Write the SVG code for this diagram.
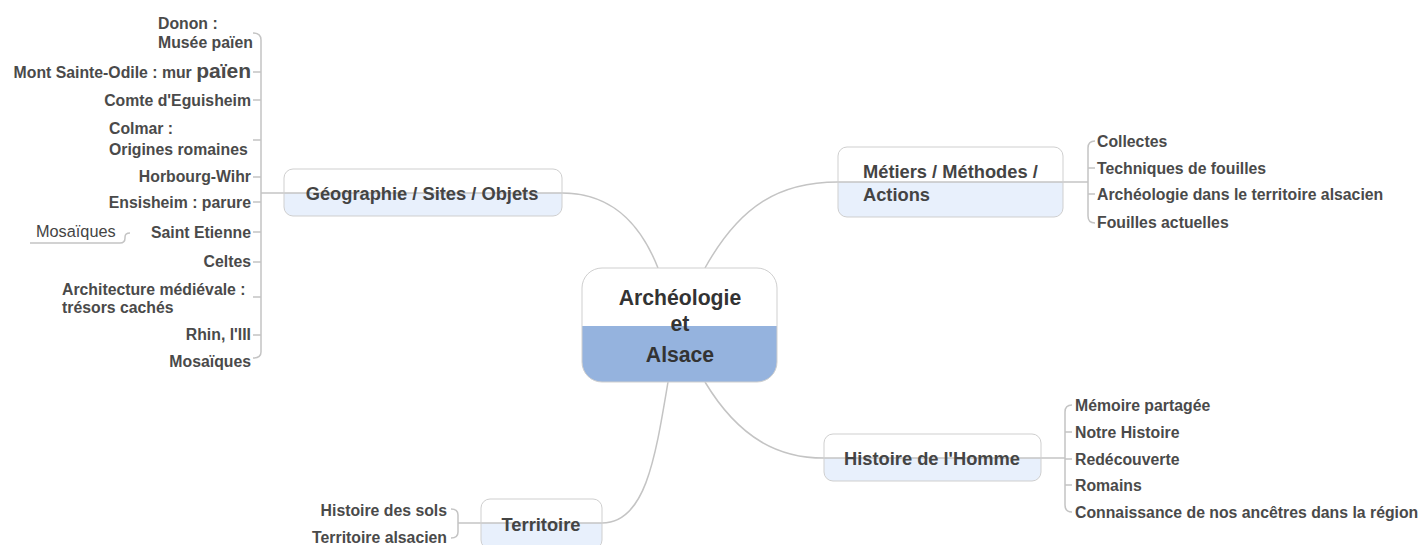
<svg xmlns="http://www.w3.org/2000/svg" width="1423" height="545" viewBox="0 0 1423 545">
<style>
.lf{font-family:"Liberation Sans",Arial,sans-serif;font-weight:bold;font-size:15.8px;fill:#4a4a4a}
.mn{font-family:"Liberation Sans",Arial,sans-serif;font-weight:bold;font-size:18.3px;fill:#444}
.ct{font-family:"Liberation Sans",Arial,sans-serif;font-weight:bold;font-size:21.2px;fill:#333}
.nr{font-family:"Liberation Sans",Arial,sans-serif;font-size:16.3px;fill:#444}
.ln{fill:none;stroke:#c4c4c4;stroke-width:1.5}
.bx{stroke:#cfcfcf;stroke-width:1}
</style>
<defs>
<clipPath id="cG"><rect x="284" y="169" width="278" height="47" rx="9"/></clipPath>
<clipPath id="cM"><rect x="838" y="147" width="225" height="70" rx="9"/></clipPath>
<clipPath id="cH"><rect x="824" y="434" width="217" height="47" rx="9"/></clipPath>
<clipPath id="cT"><rect x="481" y="499" width="121" height="50" rx="9"/></clipPath>
<clipPath id="cC"><rect x="582" y="268" width="195" height="114" rx="20"/></clipPath>
</defs>
<g id="connectors">
<path class="ln" d="M562,193 C620,193 645,235 658,268"/>
<path class="ln" d="M705,268 C740,205 780,182 838,182"/>
<path class="ln" d="M705,382 C740,440 780,458 824,458"/>
<path class="ln" d="M668,382 C655,460 645,523 602,523"/>
<path class="ln" d="M261,193 H284"/>
<path class="ln" d="M253,33 Q261,33 261,40 V352 Q261,358 253,358"/>
<path class="ln" d="M253,72 H261 M253,100 H261 M253,140 H261 M253,177 H261 M253,202 H261 M253,232 H261 M253,262 H261 M253,297 H261 M253,335 H261"/>
<path class="ln" d="M30,243 H120 Q125,243 125,238 V237 Q125,233 130,233"/>
<path class="ln" d="M1063,182 H1088"/>
<path class="ln" d="M1095,141 Q1088,141 1088,148 V216 Q1088,223 1095,223"/>
<path class="ln" d="M1088,168 H1095 M1088,194 H1095"/>
<path class="ln" d="M1041,458 H1065"/>
<path class="ln" d="M1072,405 Q1065,405 1065,412 V505 Q1065,512 1072,512"/>
<path class="ln" d="M1065,432 H1072 M1065,459 H1072 M1065,485 H1072"/>
<path class="ln" d="M481,523 H458"/>
<path class="ln" d="M451,509 Q458,509 458,515 V532 Q458,538 451,538"/>
</g>
<g id="n-center">
<rect x="582" y="268" width="195" height="114" rx="20" fill="#fff"/>
<rect x="582" y="326" width="195" height="60" fill="#95b3de" clip-path="url(#cC)"/>
<rect class="bx" x="582" y="268" width="195" height="114" rx="20" fill="none"/>
<text class="ct" x="680" y="305" text-anchor="middle">Archéologie</text>
<text class="ct" x="680" y="331" text-anchor="middle">et</text>
<text class="ct" x="680" y="362" text-anchor="middle">Alsace</text>
</g>
<g id="n-geo">
<rect x="284" y="169" width="278" height="47" rx="9" fill="#fff"/>
<rect x="284" y="193" width="278" height="25" fill="#e8f0fc" clip-path="url(#cG)"/>
<path class="ln" d="M284,193 H562" stroke-width="1"/>
<rect class="bx" x="284" y="169" width="278" height="47" rx="9" fill="none"/>
<text class="mn" x="422" y="200" text-anchor="middle">Géographie / Sites / Objets</text>
</g>
<g id="n-metiers">
<rect x="838" y="147" width="225" height="70" rx="9" fill="#fff"/>
<rect x="838" y="182" width="225" height="36" fill="#e8f0fc" clip-path="url(#cM)"/>
<path class="ln" d="M838,182 H1063" stroke-width="1"/>
<rect class="bx" x="838" y="147" width="225" height="70" rx="9" fill="none"/>
<text class="mn" x="863" y="178">Métiers / Méthodes /</text>
<text class="mn" x="863" y="201">Actions</text>
</g>
<g id="n-histoire">
<rect x="824" y="434" width="217" height="47" rx="9" fill="#fff"/>
<rect x="824" y="458" width="217" height="25" fill="#e8f0fc" clip-path="url(#cH)"/>
<path class="ln" d="M824,458 H1041" stroke-width="1"/>
<rect class="bx" x="824" y="434" width="217" height="47" rx="9" fill="none"/>
<text class="mn" x="932" y="465" text-anchor="middle">Histoire de l'Homme</text>
</g>
<g id="n-territoire">
<rect x="481" y="499" width="121" height="50" rx="9" fill="#fff"/>
<rect x="481" y="523" width="121" height="28" fill="#e8f0fc" clip-path="url(#cT)"/>
<path class="ln" d="M481,523 H602" stroke-width="1"/>
<rect class="bx" x="481" y="499" width="121" height="50" rx="9" fill="none"/>
<text class="mn" x="541" y="531" text-anchor="middle">Territoire</text>
</g>
<g id="geo-children">
<text class="lf" x="158" y="29">Donon :</text>
<text class="lf" x="158" y="48">Musée païen</text>
<text class="lf" x="251" y="78" text-anchor="end">Mont Sainte-Odile : mur <tspan font-size="21px">païen</tspan></text>
<text class="lf" x="251" y="106" text-anchor="end">Comte d'Eguisheim</text>
<text class="lf" x="109" y="134">Colmar :</text>
<text class="lf" x="109" y="155">Origines romaines</text>
<text class="lf" x="251" y="182" text-anchor="end">Horbourg-Wihr</text>
<text class="lf" x="251" y="208" text-anchor="end">Ensisheim : parure</text>
<text class="lf" x="251" y="238" text-anchor="end">Saint Etienne</text>
<text class="nr" x="36" y="237">Mosaïques</text>
<text class="lf" x="251" y="267" text-anchor="end">Celtes</text>
<text class="lf" x="62" y="295">Architecture médiévale :</text>
<text class="lf" x="62" y="313">trésors cachés</text>
<text class="lf" x="251" y="340" text-anchor="end">Rhin, l'III</text>
<text class="lf" x="251" y="367" text-anchor="end">Mosaïques</text>
</g>
<g id="metiers-children">
<text class="lf" x="1097" y="147">Collectes</text>
<text class="lf" x="1097" y="174">Techniques de fouilles</text>
<text class="lf" x="1097" y="200">Archéologie dans le territoire alsacien</text>
<text class="lf" x="1097" y="228">Fouilles actuelles</text>
</g>
<g id="histoire-children">
<text class="lf" x="1075" y="411">Mémoire partagée</text>
<text class="lf" x="1075" y="438">Notre Histoire</text>
<text class="lf" x="1075" y="465">Redécouverte</text>
<text class="lf" x="1075" y="491">Romains</text>
<text class="lf" x="1075" y="518">Connaissance de nos ancêtres dans la région</text>
</g>
<g id="territoire-children">
<text class="lf" x="447" y="516" text-anchor="end">Histoire des sols</text>
<text class="lf" x="447" y="543" text-anchor="end">Territoire alsacien</text>
</g>
</svg>
